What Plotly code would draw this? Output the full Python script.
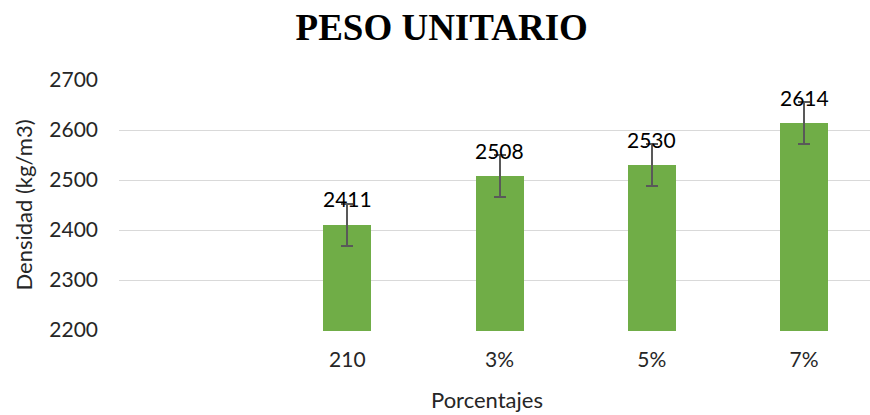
import plotly.graph_objects as go

categories = ["", "210", "3%", "5%", "7%"]
values = [None, 2411, 2508, 2530, 2614]
errors = [None, 42, 42, 42, 42]
label_texts = ["", "2411", "2508", "2530", "2614"]
y_ticks = [2200, 2300, 2400, 2500, 2600, 2700]

FONT = "Lato"
TXT = "#262626"
W, H = 870, 415
ML, MT, MB = 118.5, 78.7, 83.7

fig = go.Figure()
fig.add_trace(go.Bar(
    x=categories, y=values,
    width=0.315,
    marker=dict(color="#70AD47", line=dict(width=0)),
    error_y=dict(type="data", array=errors, visible=True,
                 color="#595959", thickness=2, width=6),
    hoverinfo="skip",
))

for i, (v, t) in enumerate(zip(values, label_texts)):
    if v is None:
        continue
    fig.add_annotation(x=i, y=v, text=t, showarrow=False,
                       yanchor="middle", yshift=26,
                       font=dict(family=FONT, size=21, color="#000000"))

plot_h = H - MT - MB
fig.add_annotation(text="Porcentajes", xref="paper", yref="paper",
                   x=(487 - ML) / (W - ML), y=-(400 - (H - MB)) / plot_h,
                   xanchor="center", yanchor="middle", showarrow=False,
                   font=dict(family=FONT, size=22, color=TXT))

fig.update_layout(
    width=W, height=H,
    margin=dict(l=ML, r=0, t=MT, b=MB, autoexpand=False),
    paper_bgcolor="white", plot_bgcolor="white",
    showlegend=False,
    bargap=0,
    title=dict(text="<b>PESO UNITARIO</b>", x=441.7 / W, xref="container",
               xanchor="center", y=1 - 27 / H, yref="container", yanchor="middle",
               font=dict(family="Liberation Serif", size=37, color="#000000")),
    font=dict(family=FONT, size=21, color=TXT),
)
fig.update_xaxes(
    type="category", categoryorder="array", categoryarray=categories,
    range=[-0.5, 4.433], automargin=False,
    showgrid=False, showline=False, zeroline=False,
    ticks="", ticklabelstandoff=14,
    tickfont=dict(family=FONT, size=21, color=TXT),
)
fig.update_yaxes(
    range=[2198, 2702], tickvals=y_ticks, automargin=False,
    showgrid=True, gridcolor="#D9D9D9", gridwidth=1.3,
    showline=False, zeroline=False, ticks="",
    ticklabelstandoff=20,
    tickfont=dict(family=FONT, size=21, color=TXT),
    title=dict(text="Densidad (kg/m3)", font=dict(family=FONT, size=22, color=TXT), standoff=10),
)

fig.write_html("out.html", config={"displayModeBar": False},
               post_script="document.body.style.margin='0';")
